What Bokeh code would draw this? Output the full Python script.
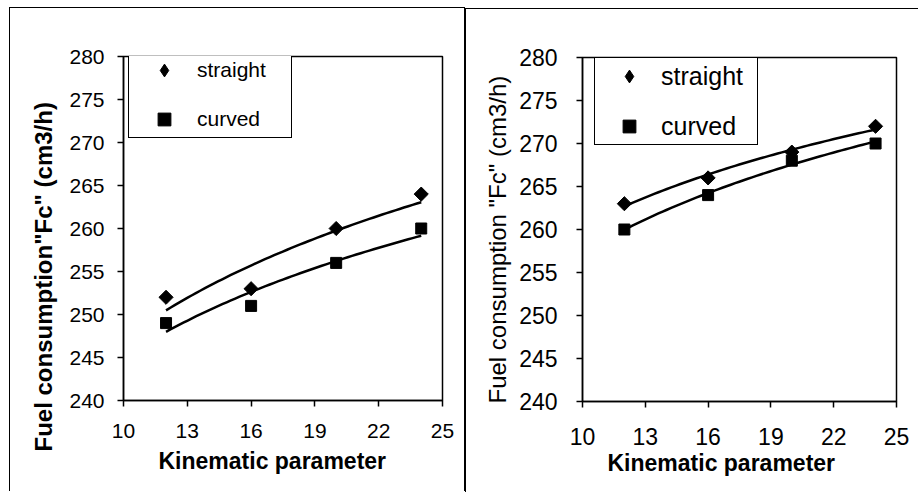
import numpy as np
from bokeh.plotting import figure
from bokeh.models import Range1d, FixedTicker, Legend, LegendItem, Title
from bokeh.layouts import row
from bokeh.embed import file_html
from bokeh.resources import INLINE

# ---- data ----
kinematic = [12, 16, 20, 24]
left_straight = [252, 253, 260, 264]
left_curved = [249, 251, 256, 260]
right_straight = [263, 266, 269, 272]
right_curved = [260, 264, 268, 270]
x_ticks = [10, 13, 16, 19, 22, 25]
y_ticks = [240, 245, 250, 255, 260, 265, 270, 275, 280]
series_names = ["straight", "curved"]
x_title = "Kinematic parameter"
y_title_left = 'Fuel consumption"Fc" (cm3/h)'
y_title_right = 'Fuel consumption "Fc" (cm3/h)'

FONT = "Liberation Sans"
H = 484


def log_trend(xv, yv):
    # Excel-style logarithmic trendline fitted to the data
    b, a = np.polyfit(np.log(xv), yv, 1)
    xs = np.linspace(min(xv), max(xv), 60)
    return xs, a + b * np.log(xs)


def make_panel(width, frame, straight, curved, ytitle, ytitle_bold,
               tick_size, ytitle_size, xtitle_size,
               y_lab_standoff, x_lab_standoff, ytitle_cfg, xtitle_cfg,
               leg, margin, border_css):
    fl, ft, fr, fb = frame
    p = figure(width=width, height=H, output_backend="svg", toolbar_location=None,
               x_range=Range1d(10, 25), y_range=Range1d(240, 280),
               min_border_left=fl, min_border_top=ft,
               min_border_right=width - fr, min_border_bottom=H - fb)
    p.margin = margin
    p.styles = border_css
    p.grid.visible = False
    p.outline_line_color = "black"
    p.outline_line_width = 1.5
    p.outline_line_alpha = 1.0
    p.background_fill_color = "white"
    p.border_fill_color = "white"

    for ax in (p.xaxis[0], p.yaxis[0]):
        ax.axis_line_color = "black"
        ax.axis_line_width = 1.5
        ax.major_tick_line_color = "black"
        ax.major_tick_line_width = 1.5
        ax.major_tick_in = 0
        ax.major_tick_out = 6
        ax.minor_tick_line_color = None
        ax.major_label_text_font = FONT
        ax.major_label_text_font_size = f"{tick_size}px"
        ax.major_label_text_color = "black"

    p.xaxis[0].ticker = FixedTicker(ticks=x_ticks)
    p.yaxis[0].ticker = FixedTicker(ticks=y_ticks)
    p.xaxis[0].major_label_standoff = x_lab_standoff
    p.yaxis[0].major_label_standoff = y_lab_standoff

    # axis titles as side titles, so they can be shifted along the axis like the original
    p.add_layout(Title(text=ytitle, text_font=FONT, text_font_size=f"{ytitle_size}px",
                       text_font_style="bold" if ytitle_bold else "normal",
                       text_color="black", align="left",
                       offset=ytitle_cfg[0], standoff=ytitle_cfg[1]), "left")
    p.add_layout(Title(text=x_title, text_font=FONT, text_font_size=f"{xtitle_size}px",
                       text_font_style="bold", text_color="black", align="left",
                       offset=xtitle_cfg[0], standoff=xtitle_cfg[1]), "below")

    xs, ys = log_trend(kinematic, straight)
    p.line(xs, ys, line_color="black", line_width=2.5)
    xs, ys = log_trend(kinematic, curved)
    p.line(xs, ys, line_color="black", line_width=2.5)

    # diamond swatch renderer (hidden under the turned squares, used by the legend)
    r1_leg = p.scatter(kinematic, straight, marker="diamond", size=12,
                       fill_color="black", line_color="black")
    # data points: diamonds drawn as squares turned by 45 degrees
    p.scatter(kinematic, straight, marker="square", angle=np.pi / 4, size=10,
              fill_color="black", line_color="black")
    r2 = p.scatter(kinematic, curved, marker="square", size=11,
                   fill_color="black", line_color="black")

    legend = Legend(items=[LegendItem(label=series_names[0], renderers=[r1_leg]),
                           LegendItem(label=series_names[1], renderers=[r2])],
                    location=leg["loc"], orientation="vertical")
    legend.margin = 0
    legend.padding = leg["padding"]
    legend.spacing = leg["spacing"]
    legend.glyph_width = leg["glyph_width"]
    legend.glyph_height = leg["glyph_height"]
    legend.label_height = leg["glyph_height"]
    legend.label_width = leg["label_width"]
    legend.label_standoff = 0
    legend.label_text_font = FONT
    legend.label_text_font_size = f"{leg['font']}px"
    legend.label_text_color = "black"
    legend.border_line_color = "black"
    legend.border_line_width = 1.5
    legend.border_line_alpha = 1.0
    legend.background_fill_color = "white"
    legend.background_fill_alpha = 1.0
    p.add_layout(legend, "center")
    return p


p1 = make_panel(456, (113, 44, 432, 393), left_straight, left_curved,
                y_title_left, True, 21, 24, 23,
                13, 17, (-51, 19), (35, 11),
                dict(loc=(5, 262), padding=2, spacing=17, glyph_width=66, glyph_height=32,
                     label_width=92, font=21),
                (7, 0, 0, 9),
                {"border-top": "1px solid black", "border-left": "1px solid black",
                 "border-right": "1px solid black"})
p2 = make_panel(453, (116, 48, 430, 392), right_straight, right_curved,
                y_title_right, False, 23, 24, 23,
                19, 20, (-2, 12), (25, 0),
                dict(loc=(12, 256), padding=2, spacing=18, glyph_width=64, glyph_height=32,
                     label_width=94, font=25),
                (8, 0, 0, 0),
                {"border-top": "1px solid black", "border-left": "1px solid black"})

layout = row(p1, p2)
open("out.html", "w").write(file_html(layout, INLINE))
